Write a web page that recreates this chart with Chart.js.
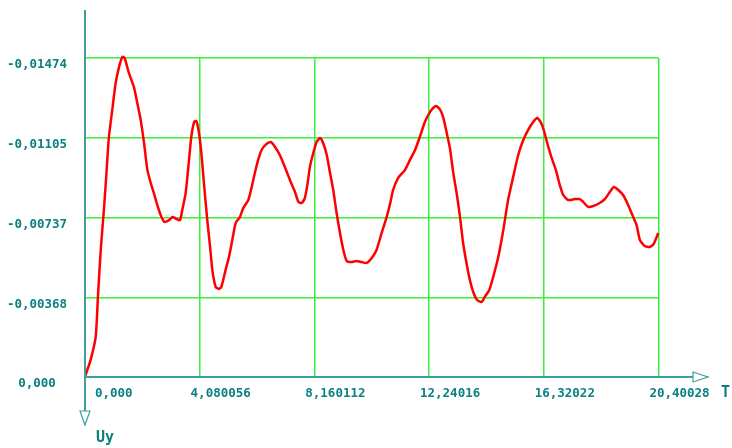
<!DOCTYPE html>
<html>
<head>
<meta charset="utf-8">
<script src="https://cdn.jsdelivr.net/npm/chart.js@4"></script>
<style>
  body { margin: 0; background: #fff; }
  #wrap { width: 732px; height: 448px; }
</style>
</head>
<body>
<div id="wrap"><canvas id="grafico" width="732" height="448"></canvas></div>
<script>
// eixo T
const tempo = [
  0.00, 0.02, 0.20, 0.38, 0.46, 0.56, 0.68, 0.77, 0.85, 0.97, 1.09, 1.21, 1.33, 1.41, 1.56, 1.74,
  1.86, 1.98, 2.10, 2.22, 2.34, 2.45, 2.57, 2.69, 2.83, 2.99, 3.12, 3.26, 3.38, 3.46, 3.58, 3.70,
  3.78, 3.88, 3.96, 4.05, 4.14, 4.23, 4.35, 4.45, 4.53, 4.65, 4.77, 4.85, 5.00, 5.12, 5.24, 5.36,
  5.51, 5.63, 5.81, 5.93, 6.05, 6.16, 6.28, 6.46, 6.61, 6.76, 6.93, 7.11, 7.29, 7.47, 7.59, 7.71,
  7.82, 7.92, 8.00, 8.12, 8.24, 8.36, 8.47, 8.60, 8.71, 8.83, 8.95, 9.07, 9.19, 9.31, 9.48, 9.66,
  9.84, 10.02, 10.20, 10.37, 10.55, 10.73, 10.85, 10.96, 11.14, 11.38, 11.56, 11.74, 11.91, 12.09, 12.27, 12.48,
  12.62, 12.74, 12.86, 12.98, 13.10, 13.22, 13.34, 13.45, 13.57, 13.69, 13.81, 13.95, 14.11, 14.22, 14.38, 14.52,
  14.70, 14.88, 15.05, 15.23, 15.41, 15.59, 15.76, 15.94, 16.08, 16.21, 16.32, 16.48, 16.60, 16.75, 16.89, 17.01,
  17.19, 17.43, 17.60, 17.72, 17.90, 18.08, 18.31, 18.49, 18.67, 18.81, 18.97, 19.14, 19.32, 19.50, 19.62, 19.74,
  19.91, 20.09, 20.23, 20.39
];

// Uy
const uy = [
  0, -0.00009, -0.00079, -0.00185, -0.00370, -0.00587, -0.00786, -0.00956, -0.01109, -0.01234, -0.01358, -0.01432, -0.01479, -0.01474, -0.01405, -0.01340,
  -0.01266, -0.01188, -0.01081, -0.00956, -0.00896, -0.00850, -0.00795, -0.00749, -0.00716, -0.00725, -0.00739, -0.00730, -0.00725, -0.00772, -0.00850, -0.01003,
  -0.01109, -0.01178, -0.01183, -0.01132, -0.01035, -0.00896, -0.00725, -0.00601, -0.00494, -0.00416, -0.00407, -0.00416, -0.00494, -0.00554, -0.00633, -0.00712,
  -0.00739, -0.00781, -0.00818, -0.00878, -0.00947, -0.01003, -0.01049, -0.01077, -0.01086, -0.01063, -0.01026, -0.00970, -0.00910, -0.00855, -0.00809, -0.00804,
  -0.00827, -0.00896, -0.00970, -0.01035, -0.01086, -0.01104, -0.01081, -0.01026, -0.00947, -0.00864, -0.00758, -0.00665, -0.00587, -0.00536, -0.00531, -0.00536,
  -0.00531, -0.00527, -0.00550, -0.00587, -0.00665, -0.00739, -0.00799, -0.00864, -0.00920, -0.00956, -0.01003, -0.01049, -0.01109, -0.01178, -0.01224, -0.01252,
  -0.01238, -0.01201, -0.01132, -0.01058, -0.00943, -0.00850, -0.00739, -0.00619, -0.00527, -0.00448, -0.00393, -0.00356, -0.00347, -0.00370, -0.00402, -0.00462,
  -0.00554, -0.00679, -0.00818, -0.00924, -0.01026, -0.01095, -0.01141, -0.01178, -0.01197, -0.01178, -0.01141, -0.01063, -0.01012, -0.00956, -0.00887, -0.00841,
  -0.00818, -0.00822, -0.00822, -0.00809, -0.00786, -0.00790, -0.00804, -0.00822, -0.00855, -0.00878, -0.00864, -0.00841, -0.00795, -0.00739, -0.00702, -0.00633,
  -0.00605, -0.00601, -0.00615, -0.00665
];

const ticksT = [0, 4.080056, 8.160112, 12.24016, 16.32022, 20.40028];
const rotulosT = ["0,000", "4,080056", "8,160112", "12,24016", "16,32022", "20,40028"];
const ticksUy = [0, -0.00368, -0.00737, -0.01105, -0.01474];
const rotulosUy = ["0,000", "-0,00368", "-0,00737", "-0,01105", "-0,01474"];

const corTexto = "#0b8080";
const corEixo = "#3f9f9f";
const corGrade = "#3af03a";
const fonteTick = "bold 12.5px 'DejaVu Sans Mono', monospace";

// eixos com setas e rotulos desenhados a mao
const eixosPlugin = {
  id: "eixos",
  afterDatasetsDraw(chart) {
    const ctx = chart.ctx;
    const sx = chart.scales.x;
    const sy = chart.scales.y;
    const x0 = sx.getPixelForValue(0);
    const y0 = sy.getPixelForValue(0);

    ctx.save();
    ctx.strokeStyle = corEixo;
    ctx.lineWidth = 2;
    // eixo vertical
    ctx.beginPath();
    ctx.moveTo(x0, 10);
    ctx.lineTo(x0, 425);
    ctx.stroke();
    // eixo horizontal
    ctx.beginPath();
    ctx.moveTo(x0, y0);
    ctx.lineTo(708, y0);
    ctx.stroke();

    // setas
    ctx.lineWidth = 1.2;
    ctx.fillStyle = "#fff";
    ctx.beginPath();
    ctx.moveTo(x0 - 5, 411);
    ctx.lineTo(x0 + 5, 411);
    ctx.lineTo(x0, 425);
    ctx.closePath();
    ctx.fill();
    ctx.stroke();
    ctx.beginPath();
    ctx.moveTo(693, y0 - 5);
    ctx.lineTo(693, y0 + 5);
    ctx.lineTo(708, y0);
    ctx.closePath();
    ctx.fill();
    ctx.stroke();

    ctx.fillStyle = corTexto;
    ctx.font = fonteTick;
    ctx.textBaseline = "middle";

    // rotulos T
    ticksT.forEach((v, i) => {
      const px = sx.getPixelForValue(v);
      const w = ctx.measureText(rotulosT[i]).width;
      const left = Math.max(px + 21 - w / 2, x0 + 10);
      ctx.textAlign = "left";
      ctx.fillText(rotulosT[i], left, y0 + 17);
    });

    // rotulos Uy
    ticksUy.forEach((v, i) => {
      const py = sy.getPixelForValue(v);
      ctx.textAlign = "center";
      ctx.fillText(rotulosUy[i], 37, py + 7);
    });

    ctx.font = "bold 15px 'DejaVu Sans Mono', monospace";
    ctx.textAlign = "left";
    ctx.fillText("T", 721, y0 + 16);
    ctx.fillText("Uy", 96, 438);
    ctx.restore();
  }
};

const ctx = document.getElementById("grafico").getContext("2d");
window.grafico = new Chart(ctx, {
  type: "line",
  data: {
    datasets: [{
      data: tempo.map((t, i) => ({ x: t, y: uy[i] })),
      borderColor: "#ff0000",
      borderWidth: 2.5,
      pointRadius: 0,
      tension: 0.2,
      clip: false
    }]
  },
  options: {
    responsive: false,
    animation: false,
    layout: { padding: { left: 85, right: 73.5, top: 58, bottom: 71 } },
    plugins: { legend: { display: false }, tooltip: { enabled: false } },
    scales: {
      x: {
        type: "linear",
        min: 0,
        max: 20.40028,
        afterBuildTicks: s => { s.ticks = ticksT.map(v => ({ value: v })); },
        ticks: { display: false },
        border: { display: false },
        grid: { color: corGrade, lineWidth: 1.5, drawTicks: false }
      },
      y: {
        min: -0.01474,
        max: 0,
        reverse: true,
        afterBuildTicks: s => { s.ticks = ticksUy.map(v => ({ value: v })); },
        ticks: { display: false },
        border: { display: false },
        grid: { color: corGrade, lineWidth: 1.5, drawTicks: false }
      }
    }
  },
  plugins: [eixosPlugin]
});
</script>
</body>
</html>
